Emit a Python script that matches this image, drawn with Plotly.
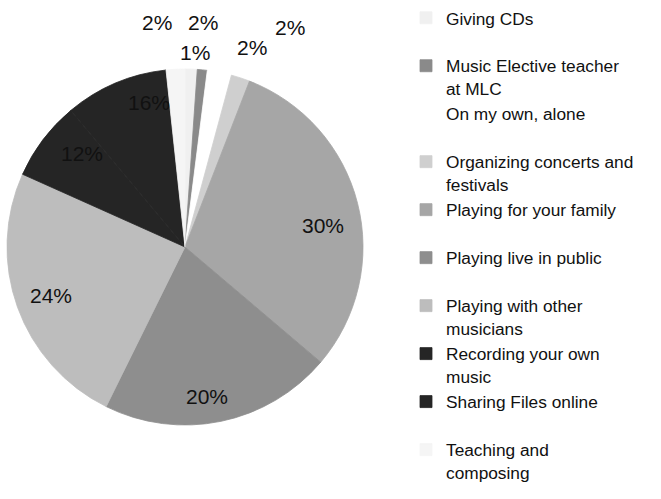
import numpy as np
import plotly.graph_objects as go

categories = [
    "Giving CDs",
    "Music Elective teacher<br>at MLC",
    "On my own, alone",
    "Organizing concerts and<br>festivals",
    "Playing for your family",
    "Playing live in public",
    "Playing with other<br>musicians",
    "Recording your own<br>music",
    "Sharing Files online",
    "Teaching and<br>composing",
]
# slice sizes (share of the circle, %)
slice_share = [1.1, 0.9, 2.2, 1.7, 30.3, 21.1, 24.4, 7.2, 9.4, 1.7]
# percentage labels printed on the chart
pct_labels = ["1%", "2%", "2%", "2%", "30%", "20%", "24%", "12%", "16%", "2%"]
colors = ["#f0f0f0", "#8a8a8a", "#ffffff", "#cfcfcf", "#a6a6a6",
          "#8e8e8e", "#bdbdbd", "#252525", "#252525", "#f5f5f5"]

# label placement styling: distance from centre (fraction of radius or px
# beyond the rim for small slices) and small nudges
outside = [True, True, True, True, False, False, False, False, False, True]
lab_dist = [17, 48, 25, 53, 0.80, 0.86, 0.80, 0.80, 0.80, 47]
lab_xshift = [3, -4, 28, 33, 0, -9, 0, 11, 20, -16]
lab_yshift = [0, 0, 0, 0, -13, 0, 0, 8, 13, 0]

W, H = 661, 499
CX, CY, R = 185, 247, 178  # pie centre / radius in px
dom_x = [(CX - R) / W, (CX + R) / W]
dom_y = [1 - (CY + R) / H, 1 - (CY - R) / H]

legend_names = [c if "<br>" in c else c + "<br> " for c in categories]

fig = go.Figure(go.Pie(
    labels=legend_names,
    values=slice_share,
    textinfo="none",
    sort=False,
    direction="clockwise",
    rotation=0,
    marker=dict(colors=colors, line=dict(width=0.8, color=colors)),
    domain=dict(x=dom_x, y=dom_y),
    hovertext=pct_labels,
    hoverinfo="label+text",
))

# percentage labels placed on each slice's mid angle
vals = np.array(slice_share, dtype=float)
ends = np.cumsum(vals) / vals.sum() * 360.0
mids = np.radians(ends - vals / vals.sum() * 180.0)
annotations = []
for i in range(len(vals)):
    rr = R + lab_dist[i] if outside[i] else R * lab_dist[i]
    px = CX + rr * np.sin(mids[i])
    py = CY - rr * np.cos(mids[i])
    annotations.append(dict(
        x=px / W, y=1 - py / H, xref="paper", yref="paper",
        text=pct_labels[i], showarrow=False,
        xshift=lab_xshift[i], yshift=lab_yshift[i],
        font=dict(size=21, color="#111111"),
        xanchor="center", yanchor="middle",
    ))

fig.update_layout(
    width=W, height=H,
    margin=dict(l=0, r=0, t=0, b=0, autoexpand=False),
    paper_bgcolor="white",
    plot_bgcolor="white",
    font=dict(family="Arial, 'Liberation Sans', sans-serif", color="#111111"),
    annotations=annotations,
    legend=dict(
        x=406 / W, xanchor="left",
        y=1.0, yanchor="top",
        valign="top",
        font=dict(size=17.3, color="#111111"),
        bgcolor="rgba(0,0,0,0)",
        traceorder="normal",
    ),
)
fig.write_html(
    "out.html",
    config={"displayModeBar": False},
    post_script="document.body.style.margin='0';document.body.style.overflow='hidden';",
)
